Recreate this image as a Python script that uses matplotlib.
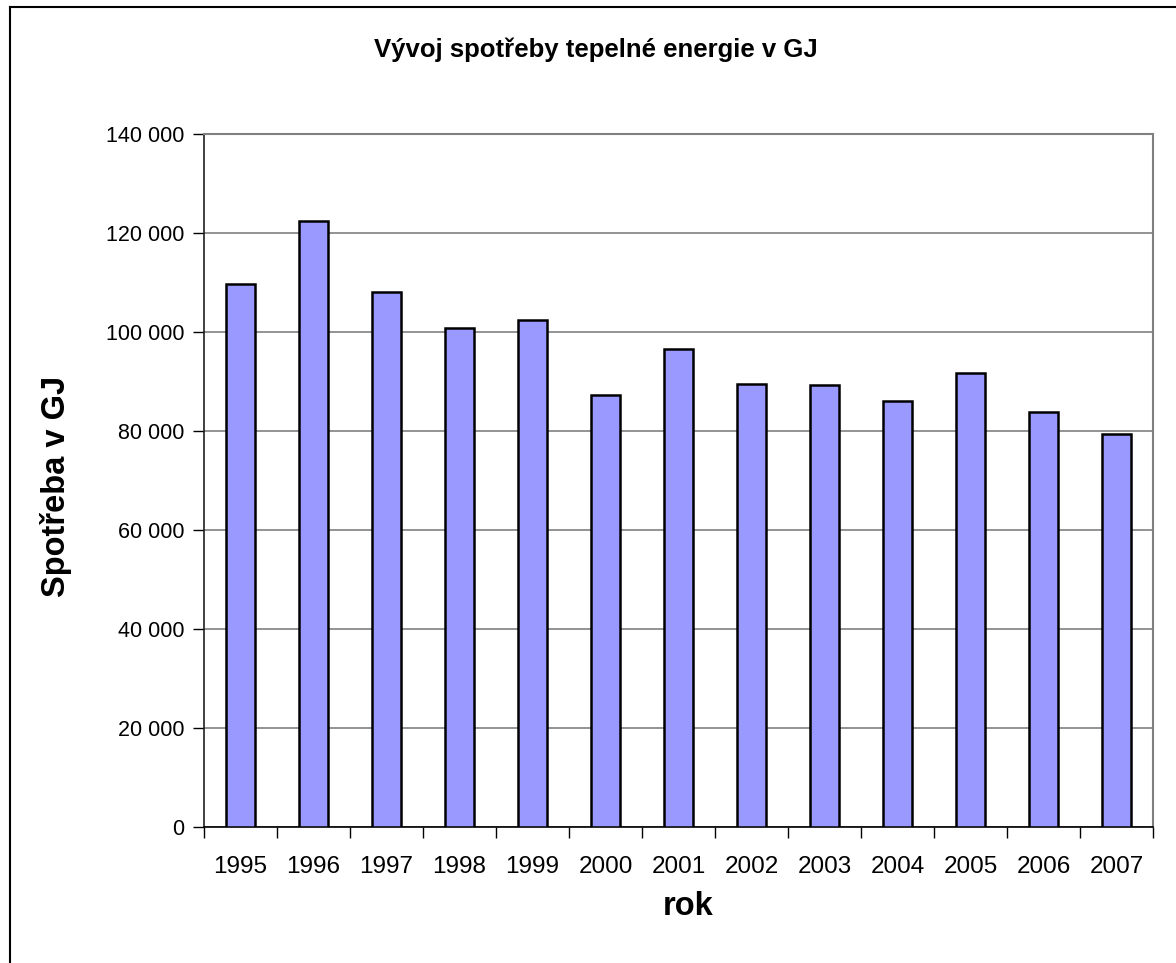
import matplotlib
matplotlib.use("Agg")
import matplotlib.pyplot as plt
from matplotlib.ticker import FixedLocator, FuncFormatter
from matplotlib.lines import Line2D
import numpy as np

plt.rcParams['font.family'] = ['Liberation Sans', 'DejaVu Sans']

years = ['1995', '1996', '1997', '1998', '1999', '2000', '2001',
         '2002', '2003', '2004', '2005', '2006', '2007']
values = [109700, 122250, 108050, 100750, 102350, 87250, 96400,
          89500, 89250, 86000, 91600, 83700, 79250]
y_ticks = [0, 20000, 40000, 60000, 80000, 100000, 120000, 140000]

fig = plt.figure(figsize=(11.76, 9.63), dpi=100)
ax = fig.add_axes([204/1176, 1-827/963, (1153-204)/1176, (827-133.5)/963])

x = np.arange(len(years))
ax.bar(x, values, width=0.41, color='#9999FF', edgecolor='black', linewidth=1.8, zorder=3)

ax.set_xlim(-0.5, len(years) - 0.5)
ax.set_ylim(0, 140000)

ax.yaxis.set_major_locator(FixedLocator(y_ticks))
ax.yaxis.set_major_formatter(FuncFormatter(lambda v, p: f"{int(v):,}".replace(",", " ")))
ax.grid(axis='y', color='#808080', linewidth=1.2, zorder=0)

ax.set_xticks(x)
ax.set_xticklabels(years)
ax.set_xticks(np.arange(-0.5, len(years), 1), minor=True)
ax.tick_params(axis='x', which='major', length=0, pad=21, labelsize=17.5)
ax.tick_params(axis='x', which='minor', length=8, width=1, color='black', direction='out')
ax.tick_params(axis='y', which='major', length=8, width=1, color='black', direction='out', pad=6, labelsize=15.5)

for s in ['top', 'right']:
    ax.spines[s].set_color('#808080')
    ax.spines[s].set_linewidth(1.5)
ax.spines['left'].set_color('#202020')
ax.spines['left'].set_linewidth(1.2)
ax.spines['bottom'].set_color('black')
ax.spines['bottom'].set_linewidth(1.2)

fig.text(596/1176, 1-50/963, 'Vývoj spotřeby tepelné energie v GJ', ha='center', va='center',
         fontsize=18.5, fontweight='bold')
fig.text(56/1176, 1-486/963, 'Spotřeba v GJ', ha='center', va='center', rotation=90,
         fontsize=23.5, fontweight='bold')
fig.text(688/1176, 1-906/963, 'rok', ha='center', va='center', fontsize=23.5, fontweight='bold')

fig.add_artist(Line2D([10/1176, 10/1176], [0, 1-7/963], transform=fig.transFigure, color='black', linewidth=1.5))
fig.add_artist(Line2D([10/1176, 1], [1-7/963, 1-7/963], transform=fig.transFigure, color='black', linewidth=1.5))

fig.savefig('out.png', dpi=100)
